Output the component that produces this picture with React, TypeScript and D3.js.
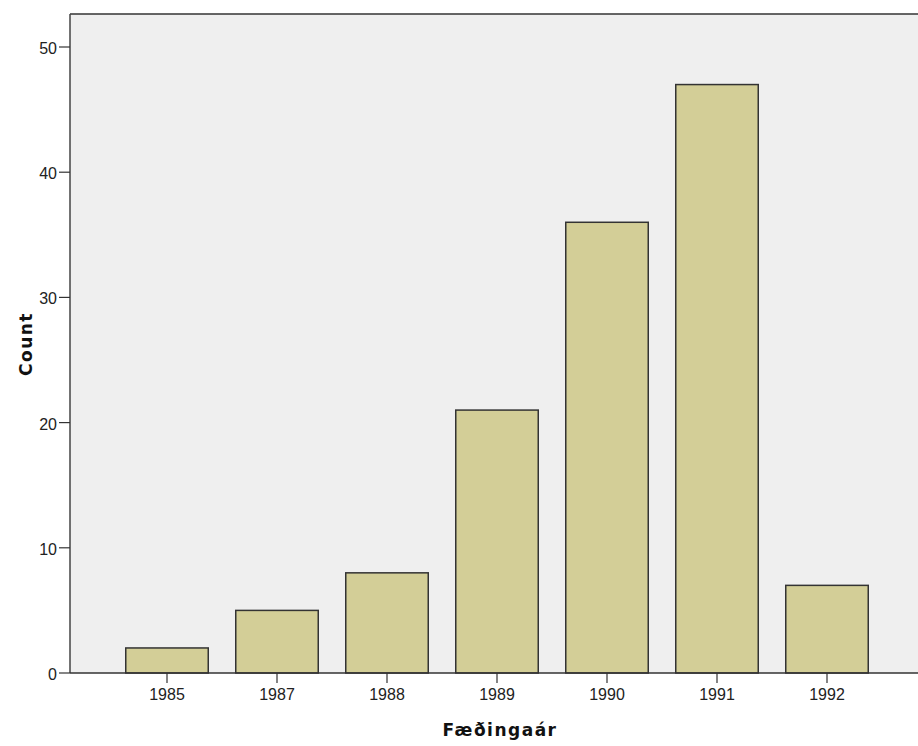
import React from "react";
import * as d3 from "d3";

const categories = ["1985", "1987", "1988", "1989", "1990", "1991", "1992"];
const counts = [2, 5, 8, 21, 36, 47, 7];
const yTicks = [0, 10, 20, 30, 40, 50];
const xTitle = "Fæðingaár";
const yTitle = "Count";

export default function App() {
  const W = 918, H = 746;
  const left = 70, top = 14, bottom = 673, right = 918;
  const y = d3.scaleLinear().domain([0, 50]).range([bottom, 47]);
  const x = d3.scaleBand<string>().domain(categories).range([112, 882]).paddingInner(0.25).paddingOuter(0.125);
  const font = "'Liberation Sans', Arial, sans-serif";
  const titleFont = "'DejaVu Sans', sans-serif";
  return (
    <svg width={W} height={H} style={{ position: "absolute", left: 0, top: 0, background: "#fff" }}>
      <rect x={left} y={top} width={right - left} height={bottom - top} fill="#efefef" />
      {categories.map((c, i) => (
        <rect key={c} x={x(c)!} y={y(counts[i])} width={x.bandwidth()} height={bottom - y(counts[i])}
          fill="#d3ce97" stroke="#333" strokeWidth={1.5} />
      ))}
      <line x1={left} x2={right} y1={top} y2={top} stroke="#333" strokeWidth={1.5} />
      <line x1={left} x2={left} y1={top} y2={bottom} stroke="#444" strokeWidth={1.5} />
      <line x1={left} x2={right} y1={bottom} y2={bottom} stroke="#333" strokeWidth={1.5} />
      {yTicks.map(t => (
        <g key={t}>
          <line x1={59} x2={left} y1={y(t)} y2={y(t)} stroke="#333" strokeWidth={1.2} />
          <text x={57} y={y(t) + 7} textAnchor="end" fontFamily={font} fontSize={16} fill="#222">{t}</text>
        </g>
      ))}
      {categories.map(c => {
        const cx = x(c)! + x.bandwidth() / 2;
        return (
          <g key={c}>
            <line x1={cx} x2={cx} y1={bottom} y2={bottom + 10} stroke="#333" strokeWidth={1.2} />
            <text x={cx} y={700} textAnchor="middle" fontFamily={font} fontSize={16} fill="#222">{c}</text>
          </g>
        );
      })}
      <text x={500} y={736} textAnchor="middle" fontFamily={titleFont} fontWeight="bold" fontSize={17} letterSpacing={1.5} fill="#111">{xTitle}</text>
      <text transform={`translate(32,344) rotate(-90)`} textAnchor="middle" fontFamily={titleFont} fontWeight="bold" fontSize={17} letterSpacing={1.5} fill="#111">{yTitle}</text>
    </svg>
  );
}
